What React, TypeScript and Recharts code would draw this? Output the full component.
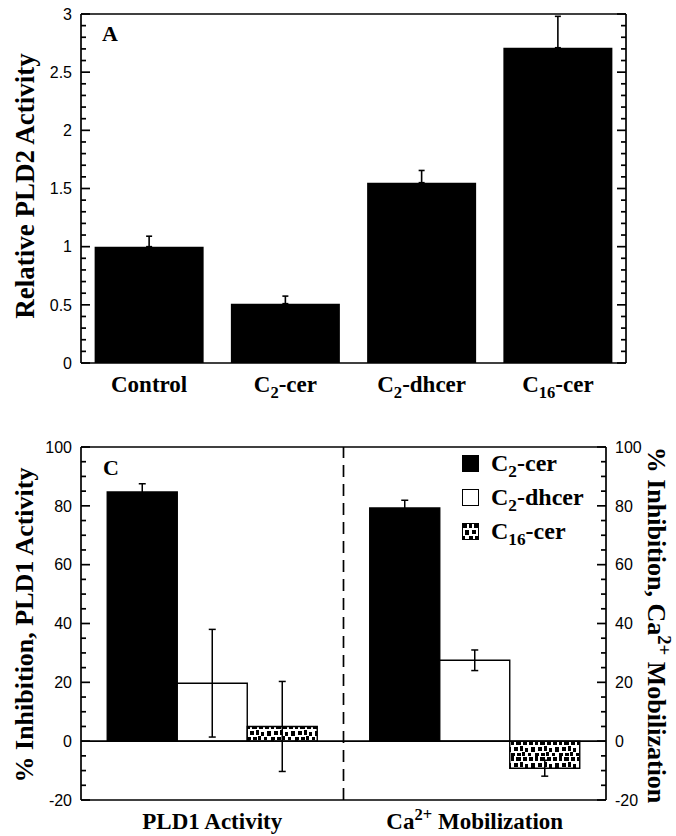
import { BarChart, Bar, XAxis, YAxis, ErrorBar, ReferenceLine } from 'recharts';

const SERIF = '"Liberation Serif", "Times New Roman", Times, serif';
const SANS = '"Liberation Sans", Arial, Helvetica, sans-serif';

// Panel A: relative PLD2 activity
const pld2Groups = ['Control', 'C_2-cer', 'C_2-dhcer', 'C_16-cer'];
const pld2Activity = [1.0, 0.51, 1.55, 2.71];
const pld2Err = [0.09, 0.065, 0.105, 0.27];
const pld2Ticks = [0, 0.5, 1, 1.5, 2, 2.5, 3];

// Panel C: % inhibition of PLD1 activity and Ca2+ mobilization
const assays = ['PLD1 Activity', 'Ca^2+ Mobilization'];
const c2Cer = [84.7, 79.3];
const c2CerErr = [2.8, 2.6];
const c2Dhcer = [19.7, 27.5];
const c2DhcerErr = [18.3, 3.5];
const c16Cer = [5.0, -9.2];
const c16CerErr = [15.3, 2.7];
const inhibitionTicks = [-20, 0, 20, 40, 60, 80, 100];

const series = [
  { key: 'c2Cer', label: 'C_2-cer', fill: '#000' },
  { key: 'c2Dhcer', label: 'C_2-dhcer', fill: '#fff' },
  { key: 'c16Cer', label: 'C_16-cer', fill: 'url(#c16Dots)' },
];

const pld2Data = pld2Groups.map((name, i) => ({
  name,
  value: pld2Activity[i],
  err: [0, pld2Err[i]],
}));

const inhibitionData = assays.map((name, i) => ({
  name,
  c2Cer: c2Cer[i],
  c2CerErr: c2CerErr[i],
  c2Dhcer: c2Dhcer[i],
  c2DhcerErr: c2DhcerErr[i],
  c16Cer: c16Cer[i],
  c16CerErr: c16CerErr[i],
}));

// page layout: plot frames of the two panels (page pixels)
const W = 676;
const A_TOP = 0, A_H = 412;
const C_TOP = 420, C_H = 416;
const frameA = { left: 81, right: 626, top: 14, bottom: 363 };
const frameC = { left: 81, right: 606, top: 447, bottom: 800 };

// minor tick values between the major ones
function minorTicks(major: number[], perGap: number) {
  const out: number[] = [];
  for (let i = 0; i < major.length - 1; i++) {
    const step = (major[i + 1] - major[i]) / perGap;
    for (let k = 1; k < perGap; k++) out.push(+(major[i] + k * step).toFixed(4));
  }
  return out;
}

// "C_2-cer" -> subscript 2, "Ca^2+" -> superscript 2+
function rich(text: string, size: number) {
  const parts = text.split(/([_^][0-9+]+)/).filter(Boolean);
  let shift = 0;
  return parts.map((p, i) => {
    if (p[0] === '_' || p[0] === '^') {
      const d = p[0] === '_' ? size * 0.27 : -size * 0.4;
      shift = d;
      return (
        <tspan key={i} dy={d} fontSize={size * 0.72}>
          {p.slice(1)}
        </tspan>
      );
    }
    const dy = -shift;
    shift = 0;
    return (
      <tspan key={i} dy={dy || undefined}>
        {p}
      </tspan>
    );
  });
}

const CategoryTick = (props: any) => {
  const { x, y, payload } = props;
  return (
    <text x={x} y={y + 29} textAnchor="middle" fontFamily={SERIF} fontWeight="bold" fontSize={23} fill="#000">
      {rich(payload.value, 23)}
    </text>
  );
};

function DotPattern({ id }: { id: string }) {
  const blocks = [
    [1, 1, 4, 4], [7, 0, 3, 5], [12, 1, 5, 4], [19, 1, 4, 4],
    [3, 7, 4, 5], [10, 7, 4, 4], [16, 6, 3, 5], [21, 8, 3, 4],
    [0, 13, 3, 3], [7, 13, 4, 3], [13, 13, 4, 3], [18, 12, 3, 4],
  ];
  return (
    <pattern id={id} patternUnits="userSpaceOnUse" width={24} height={16}>
      <rect width={24} height={16} fill="#fff" />
      {blocks.map(([bx, by, w, h], i) => (
        <rect key={i} x={bx} y={by} width={w} height={h} fill="#000" />
      ))}
    </pattern>
  );
}

const STROKE = 1.7;

// inward major/minor tick marks on both vertical edges of a frame
function FrameTicks({ box, domain, major, perGap }: { box: typeof frameA; domain: [number, number]; major: number[]; perGap: number }) {
  const [d0, d1] = domain;
  const toY = (v: number) => box.bottom - ((v - d0) / (d1 - d0)) * (box.bottom - box.top);
  const marks = [...major.map((v) => [v, 9]), ...minorTicks(major, perGap).map((v) => [v, 5])];
  return (
    <g stroke="#000" strokeWidth={STROKE}>
      {marks.map(([v, len]) => {
        const y = toY(v);
        return (
          <g key={v}>
            <line x1={box.left} x2={box.left + len} y1={y} y2={y} />
            <line x1={box.right - len} x2={box.right} y1={y} y2={y} />
          </g>
        );
      })}
    </g>
  );
}

const ink = { stroke: '#000', strokeWidth: STROKE };
const tickFont = { fontFamily: SANS, fontSize: 16, fill: '#000' };

export default function App() {
  return (
    <div style={{ position: 'absolute', left: 0, top: 0, width: W, height: 836, background: '#fff' }}>
      {/* Panel A */}
      <div style={{ position: 'absolute', left: 0, top: A_TOP }}>
        <BarChart
          width={W}
          height={A_H}
          data={pld2Data}
          margin={{ top: frameA.top - A_TOP, right: 0, bottom: 0, left: 0 }}
          barCategoryGap="10%"
        >
          <XAxis dataKey="name" height={A_TOP + A_H - frameA.bottom} axisLine={ink} tickLine={false} tickSize={0} tickMargin={0} tick={<CategoryTick />} interval={0} />
          <YAxis yAxisId="left" domain={[0, 3]} allowDataOverflow ticks={pld2Ticks} interval={0} width={frameA.left} axisLine={ink} tickLine={false} tickSize={0} tickMargin={9} tick={tickFont} />
          <YAxis yAxisId="right" orientation="right" domain={[0, 3]} allowDataOverflow ticks={pld2Ticks} interval={0} width={W - frameA.right} axisLine={ink} tickLine={false} tick={false} />
          <Bar yAxisId="left" dataKey="value" fill="#000" isAnimationActive={false}>
            <ErrorBar dataKey="err" width={3} stroke="#000" strokeWidth={1.6} isAnimationActive={false} />
          </Bar>
          {/* top edge of the frame */}
          <ReferenceLine yAxisId="left" y={3} {...ink} />
        </BarChart>
      </div>

      {/* Panel C */}
      <div style={{ position: 'absolute', left: 0, top: C_TOP }}>
        <BarChart
          width={W}
          height={C_H}
          data={inhibitionData}
          margin={{ top: frameC.top - C_TOP, right: 0, bottom: 0, left: 0 }}
          barCategoryGap="10%"
          barGap={0}
        >
          <defs>
            <DotPattern id="c16Dots" />
          </defs>
          <XAxis dataKey="name" height={C_TOP + C_H - frameC.bottom} axisLine={ink} tickLine={false} tickSize={0} tickMargin={0} tick={<CategoryTick />} interval={0} />
          <YAxis yAxisId="left" domain={[-20, 100]} allowDataOverflow ticks={inhibitionTicks} interval={0} width={frameC.left} axisLine={ink} tickLine={false} tickSize={0} tickMargin={9} tick={tickFont} />
          <YAxis yAxisId="right" orientation="right" domain={[-20, 100]} allowDataOverflow ticks={inhibitionTicks} interval={0} width={W - frameC.right} axisLine={ink} tickLine={false} tickSize={0} tickMargin={9} tick={tickFont} />
          {series.map((s) => (
            <Bar
              key={s.key}
              yAxisId="left"
              dataKey={s.key}
              fill={s.fill}
              stroke="#000"
              strokeWidth={1.4}
              isAnimationActive={false}
            >
              <ErrorBar dataKey={`${s.key}Err`} width={3.5} stroke="#000" strokeWidth={1.5} isAnimationActive={false} />
            </Bar>
          ))}
          <ReferenceLine yAxisId="left" y={0} {...ink} />
          <ReferenceLine yAxisId="left" y={100} {...ink} />
          {/* dashed divider between the two assays */}
          <ReferenceLine yAxisId="left" x={assays[1]} position="start" {...ink} strokeDasharray="12 7" />
        </BarChart>
      </div>

      {/* tick marks, panel letters, axis titles and legend */}
      <svg
        width={W}
        height={836}
        style={{ position: 'absolute', left: 0, top: 0, pointerEvents: 'none' }}
        fontFamily={SERIF}
        fontWeight="bold"
      >
        <defs>
          <DotPattern id="c16DotsKey" />
        </defs>
        <FrameTicks box={frameA} domain={[0, 3]} major={pld2Ticks} perGap={5} />
        <FrameTicks box={frameC} domain={[-20, 100]} major={inhibitionTicks} perGap={4} />
        <text x={102} y={41} fontSize={22}>A</text>
        <text x={103} y={475} fontSize={22}>C</text>
        <text transform="translate(34,186) rotate(-90)" textAnchor="middle" fontSize={27}>
          Relative PLD2 Activity
        </text>
        <text transform="translate(33,625) rotate(-90)" textAnchor="middle" fontSize={26}>
          % Inhibition, PLD1 Activity
        </text>
        <text transform="translate(648,625) rotate(90)" textAnchor="middle" fontSize={26}>
          {rich('% Inhibition, Ca^2+ Mobilization', 26)}
        </text>
        {series.map((s, i) => (
          <g key={s.key} transform={`translate(462,${455 + i * 34})`}>
            <rect
              x={0.5}
              y={0.5}
              width={16}
              height={16}
              fill={s.key === 'c16Cer' ? 'url(#c16DotsKey)' : s.fill}
              stroke="#000"
              strokeWidth={1}
            />
            <text x={29} y={16} fontSize={24}>
              {rich(s.label, 24)}
            </text>
          </g>
        ))}
      </svg>
    </div>
  );
}
